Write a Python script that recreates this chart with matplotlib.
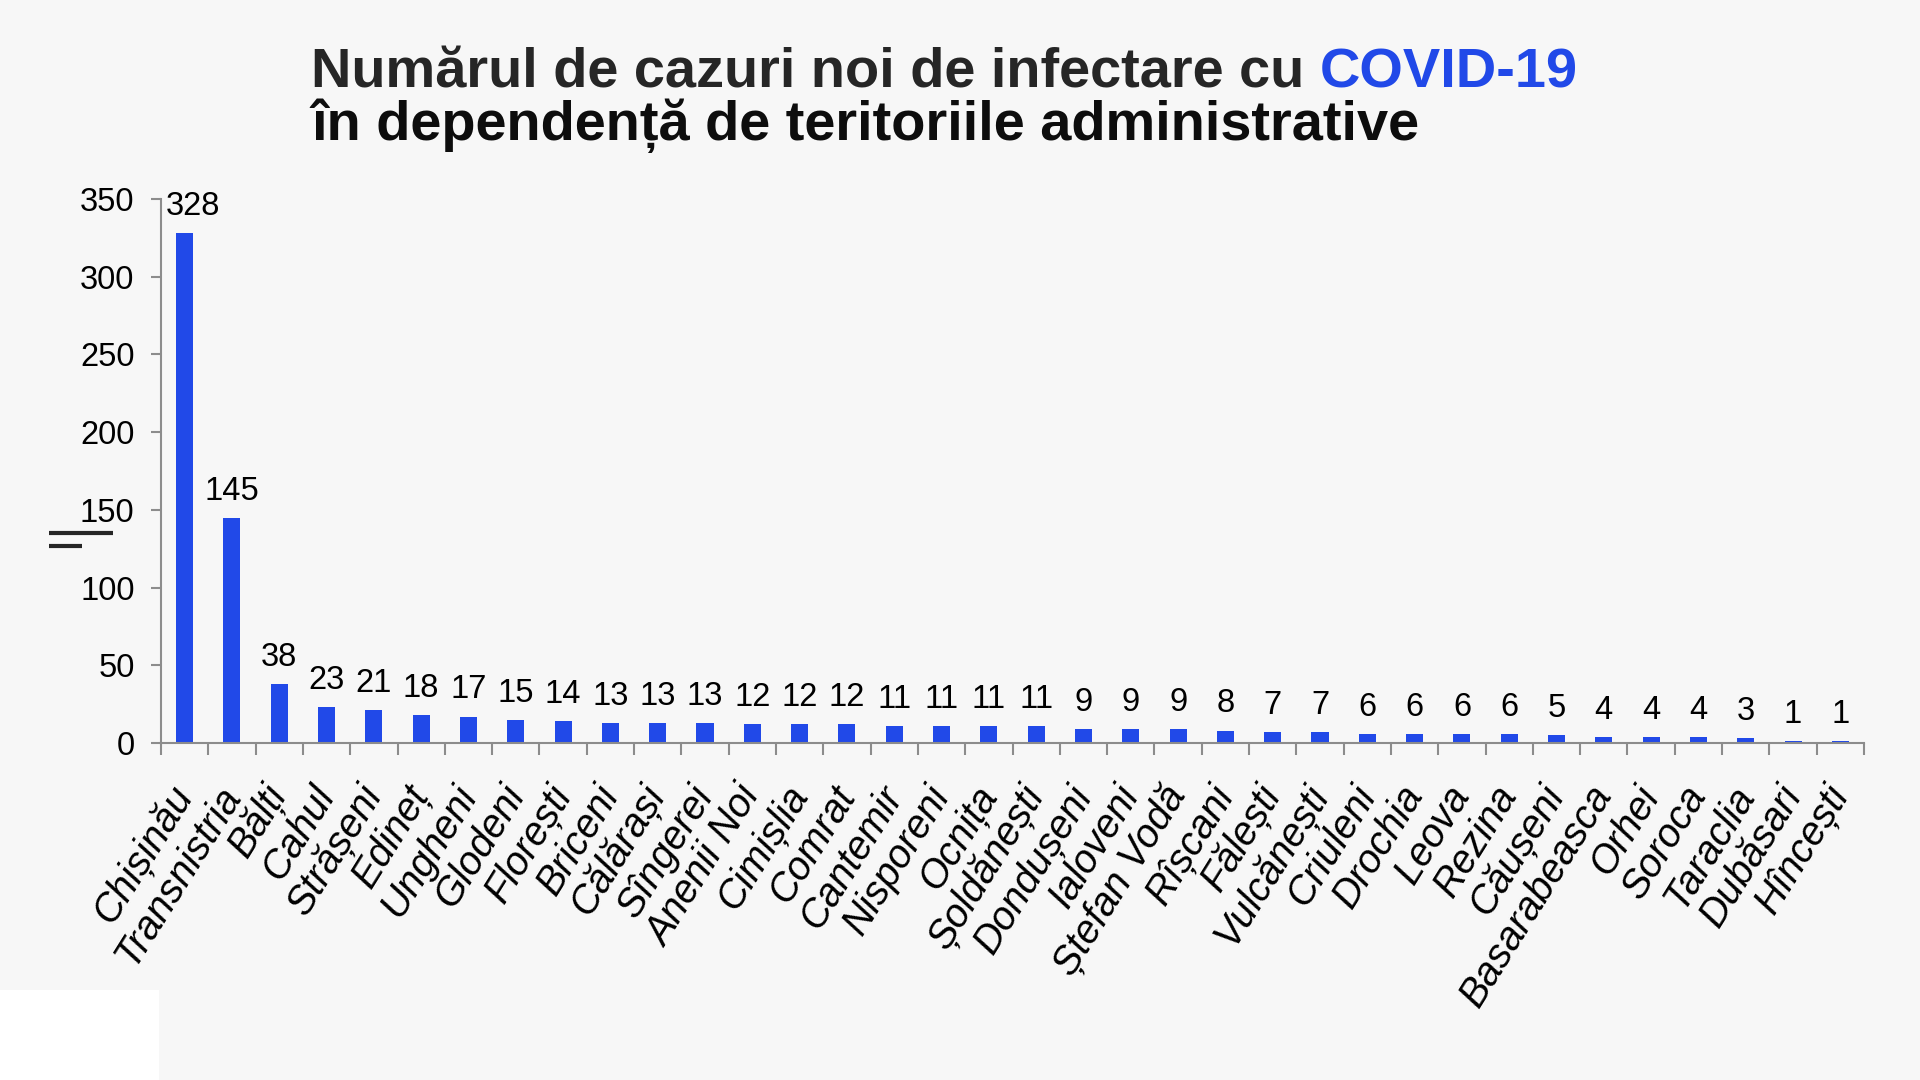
import matplotlib
matplotlib.use('Agg')
import matplotlib.pyplot as plt
from matplotlib import font_manager
from matplotlib.lines import Line2D
from matplotlib.patches import Rectangle
import numpy as np

# ---------------- data ----------------
categories = ["Chișinău", "Transnistria", "Bălți", "Cahul", "Strășeni", "Edineț",
              "Ungheni", "Glodeni", "Florești", "Briceni", "Călărași", "Sîngerei",
              "Anenii Noi", "Cimișlia", "Comrat", "Cantemir", "Nisporeni", "Ocnița",
              "Șoldănești", "Dondușeni", "Ialoveni", "Ștefan Vodă", "Rîșcani", "Fălești",
              "Vulcănești", "Criuleni", "Drochia", "Leova", "Rezina", "Căușeni",
              "Basarabeasca", "Orhei", "Soroca", "Taraclia", "Dubăsari", "Hîncești"]
cases = [328, 145, 38, 23, 21, 18, 17, 15, 14, 13, 13, 13, 12, 12, 12, 11, 11, 11,
         11, 9, 9, 9, 8, 7, 7, 6, 6, 6, 6, 5, 4, 4, 4, 3, 1, 1]
yticks = [0, 50, 100, 150, 200, 250, 300, 350]
title_line1 = "Numărul de cazuri noi de infectare cu"
title_highlight = "COVID-19"
title_line2 = "în dependență de teritoriile administrative"

# ---------------- style ----------------
BG = '#f7f7f7'
BAR = '#2149e8'
HILITE = '#2149e8'
AXC = '#8c8c8c'
W, H = 1920, 1080


def has_font(name):
    try:
        font_manager.findfont(font_manager.FontProperties(family=name),
                              fallback_to_default=False)
        return True
    except Exception:
        return False


base = 'Liberation Sans' if has_font('Liberation Sans') else 'DejaVu Sans'
title_font = 'Liberation Sans Narrow' if has_font('Liberation Sans Narrow') else base

fig = plt.figure(figsize=(19.2, 10.8), dpi=100, facecolor=BG)
ax = fig.add_axes([161 / W, 1 - 743 / H, (1864 - 161) / W, (743 - 199) / H])
ax.set_facecolor(BG)

x = np.arange(len(categories))
bars = ax.bar(x, cases, width=0.36, color=BAR, zorder=2)
ax.set_xlim(-0.5, len(categories) - 0.5)
ax.set_ylim(0, 350)

ax.set_yticks(yticks)
ax.set_yticklabels([str(v) for v in yticks], fontsize=23.5, family=base, color='black')

# major ticks at category boundaries (no labels), minor ticks at centres carry labels
ax.set_xticks(np.arange(len(categories) + 1) - 0.5)
ax.set_xticklabels([''] * (len(categories) + 1))
ax.set_xticks(x, minor=True)
ax.set_xticklabels(categories, minor=True, fontsize=28.5, family=base,
                   style='italic', color='black')
for lab in ax.get_xticklabels(minor=True):
    lab.set_rotation(58)
    lab.set_ha('right')
    lab.set_va('center')
    lab.set_rotation_mode('anchor')

ax.tick_params(axis='x', which='major', length=8.5, width=1.5, color=AXC, direction='out')
ax.tick_params(axis='x', which='minor', length=0, pad=33)
ax.tick_params(axis='y', which='major', length=7, width=1.5, color=AXC, direction='out', pad=12)

for s in ('top', 'right'):
    ax.spines[s].set_visible(False)
for s in ('left', 'bottom'):
    ax.spines[s].set_color(AXC)
    ax.spines[s].set_linewidth(1.5)

vlabels = ax.bar_label(bars, labels=[str(v) for v in cases], padding=8, fontsize=23.5,
                       family=base, color='black')
# the first label is nudged right (clear of the axis), as in the source chart
vlabels[0].xyann = (6, vlabels[0].xyann[1])

# ---------------- title ----------------
fs = 42
t1 = fig.text(311 / W, 1 - 87 / H, title_line1, fontsize=fs, weight='bold',
              family=title_font, color='#262626', ha='left', va='baseline')
t2 = fig.text(311 / W, 1 - 140 / H, title_line2, fontsize=fs, weight='bold',
              family=title_font, color='#0d0d0d', ha='left', va='baseline')
renderer = fig.canvas.get_renderer()
t1h = fig.text(0, 0, title_highlight, fontsize=fs, weight='bold', family=title_font)
w_total = (t1.get_window_extent(renderer).width + t1h.get_window_extent(renderer).width
           + 0.278 * fs * 100 / 72)
t1h.remove()
fs_fit = fs * 1272 / w_total
fs_fit = min(fs_fit, 44)
t1.set_fontsize(fs_fit)
t2.set_fontsize(fs_fit)
ax.annotate(title_highlight, xy=(1, 0), xycoords=t1, xytext=(0.278 * fs_fit, 0),
            textcoords='offset points', fontsize=fs_fit, weight='bold',
            family=title_font, color=HILITE, ha='left', va='bottom',
            annotation_clip=False)

# ---------------- decorations ----------------
fig.add_artist(Line2D([49 / W, 113 / W], [1 - 533 / H] * 2, lw=3, color='#262626',
                      transform=fig.transFigure, solid_capstyle='butt'))
fig.add_artist(Line2D([49 / W, 82 / W], [1 - 546 / H] * 2, lw=3, color='#262626',
                      transform=fig.transFigure, solid_capstyle='butt'))
fig.add_artist(Rectangle((0, 0), 159 / W, 90 / H, transform=fig.transFigure,
                         facecolor='white', edgecolor='none'))

fig.savefig('out.png', dpi=100, facecolor=BG)
